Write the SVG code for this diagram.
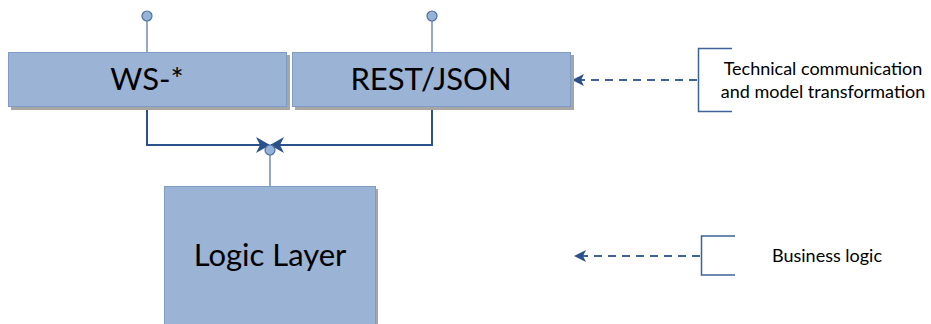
<svg xmlns="http://www.w3.org/2000/svg" width="931" height="324" viewBox="0 0 931 324">
  <style>
    .shadow { fill: #a6a6a6; }
    .box { fill: #9bb3d4; stroke: #7f9cc6; stroke-width: 1; }
    .label { font-family: Lato, "Open Sans", sans-serif; fill: #000; text-anchor: middle; }
    .big { font-size: 31px; }
    .note { font-size: 18px; }
    .stem { stroke: #4f6f9f; stroke-width: 1.2; fill: none; }
    .ball { fill: #95b3d7; stroke: #4f6f9f; stroke-width: 1.2; }
    .flow { stroke: #2a5189; stroke-width: 2; fill: none; }
    .dash { stroke: #3d6398; stroke-width: 2; fill: none; stroke-dasharray: 8 6; }
    .bracket { stroke: #3d6398; stroke-width: 1.5; fill: none; }
  </style>
  <defs>
    <marker id="head" viewBox="0 0 14 16" refX="13" refY="8" markerWidth="14" markerHeight="16" markerUnits="userSpaceOnUse" orient="auto">
      <path d="M0,0 L14,8 L0,16 L4,8 Z" fill="#2a5189"/>
    </marker>
    <marker id="dhead" viewBox="0 0 12 12" refX="11" refY="6" markerWidth="12" markerHeight="12" markerUnits="userSpaceOnUse" orient="auto">
      <path d="M0,0 L12,6 L0,12 L3,6 Z" fill="#2a5189"/>
    </marker>
  </defs>

  <!-- connectors -->
  <g id="connectors">
    <line class="stem" x1="147" y1="21" x2="147" y2="52"/>
    <line class="stem" x1="432" y1="21" x2="432" y2="52"/>
    <line class="stem" x1="270" y1="155" x2="270" y2="186"/>
    <path class="flow" d="M147,107 V145 H269" marker-end="url(#head)"/>
    <path class="flow" d="M432,107 V145 H271" marker-end="url(#head)"/>
    <line class="dash" x1="697" y1="80" x2="573" y2="80" marker-end="url(#dhead)"/>
    <line class="dash" x1="700" y1="256" x2="575" y2="256" marker-end="url(#dhead)"/>
  </g>

  <!-- interface lollipops -->
  <g id="ports">
    <circle class="ball" cx="147" cy="16" r="5"/>
    <circle class="ball" cx="432" cy="16" r="5"/>
    <circle class="ball" cx="270" cy="150" r="5"/>
  </g>

  <g id="ws">
    <rect class="shadow" x="11" y="55" width="279" height="55"/>
    <rect class="box" x="8.5" y="52.5" width="278" height="54"/>
    <text class="label big" x="147" y="90">WS-*</text>
  </g>

  <g id="rest">
    <rect class="shadow" x="295" y="55" width="279" height="55"/>
    <rect class="box" x="292.5" y="52.5" width="278" height="54"/>
    <text class="label big" x="431" y="90">REST/JSON</text>
  </g>

  <g id="logic">
    <rect class="shadow" x="167" y="189" width="211" height="140"/>
    <rect class="box" x="164.5" y="186.5" width="211" height="140"/>
    <text class="label big" x="270" y="266">Logic Layer</text>
  </g>

  <g id="note-technical">
    <path class="bracket" d="M732,48.5 H698.5 V111.5 H732"/>
    <text class="label note" x="823" y="75">Technical communication</text>
    <text class="label note" x="823" y="98">and model transformation</text>
  </g>

  <g id="note-business">
    <path class="bracket" d="M735,236 H701.5 V275 H735"/>
    <text class="label note" x="827" y="262">Business logic</text>
  </g>
</svg>
